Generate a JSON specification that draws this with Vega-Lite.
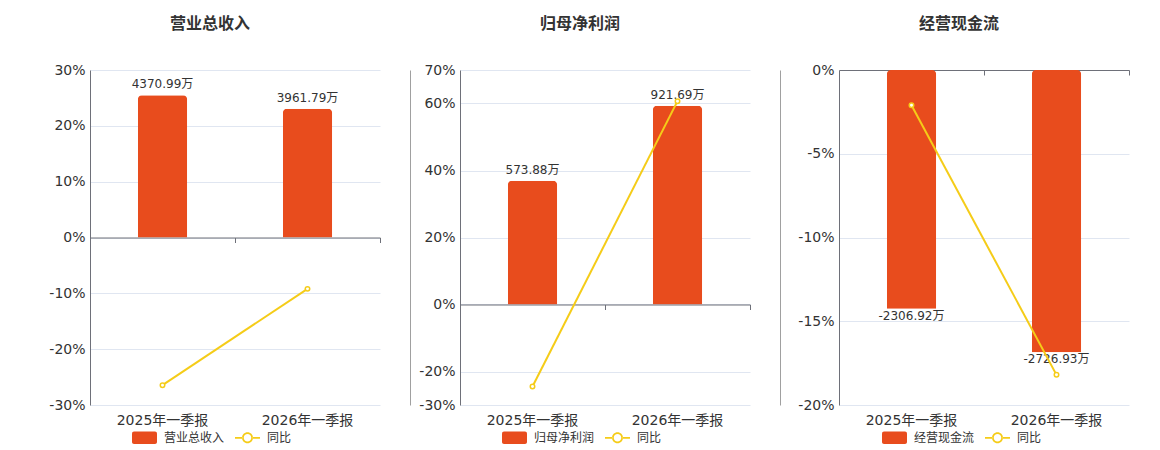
{
  "$schema": "https://vega.github.io/schema/vega-lite/v6.json",
  "padding": {"left": 45, "top": 16, "right": 5, "bottom": 0},
  "datasets": {
    "rev": [
      {"period": "2025年一季报", "value": 4370.99, "label": "4370.99万", "yoy": -26.45},
      {"period": "2026年一季报", "value": 3961.79, "label": "3961.79万", "yoy": -9.2}
    ],
    "np": [
      {"period": "2025年一季报", "value": 573.88, "label": "573.88万", "yoy": -24.5},
      {"period": "2026年一季报", "value": 921.69, "label": "921.69万", "yoy": 60.7}
    ],
    "cf": [
      {"period": "2025年一季报", "value": -2306.92, "label": "-2306.92万", "yoy": -2.1},
      {"period": "2026年一季报", "value": -2726.93, "label": "-2726.93万", "yoy": -18.2}
    ]
  },
  "spacing": 0,
  "hconcat": [
    {
      "width": 290, "height": 335,
      "title": {"text": "营业总收入"},
      "data": {"name": "rev"},
      "layer": [
        {
          "encoding": {
            "x": {
              "field": "period", "type": "nominal", "sort": null,
              "scale": {"paddingInner": 0.66, "paddingOuter": 0.33},
              "axis": {"orient": "bottom", "labelAngle": 0, "domain": false, "ticks": false, "grid": false, "title": null, "labelPadding": 8}
            },
            "y": {
              "field": "value", "type": "quantitative",
              "scale": {"domain": [-5150, 5150], "nice": false, "zero": false},
              "axis": {"orient": "right", "offset": 30, "labels": false, "ticks": false, "grid": false, "domain": true, "title": null, "domainColor": "#A0A0A0"}
            }
          },
          "layer": [
            {
              "mark": {"type": "bar", "cornerRadiusEnd": 4},
              "encoding": {
                "color": {
                  "datum": "营业总收入", "type": "nominal",
                  "scale": {"domain": ["营业总收入", "同比"], "range": ["#E84C1D", "#F5CC18"]},
                  "legend": {
                    "title": null, "orient": "none", "legendX": 42, "legendY": 355, "direction": "horizontal",
                    "symbolSize": 625, "symbolStrokeWidth": 0, "labelFontSize": 12, "labelColor": "#333333", "labelOffset": 7, "columnPadding": 10,
                    "encode": {"symbols": {"update": {
                      "shape": {"signal": "datum.value === '同比' ? 'M-1,-0.07L-0.42,-0.07L-0.42,0.07L-1,0.07ZM0.42,-0.07L1,-0.07L1,0.07L0.42,0.07ZM0.44,0A0.44,0.44,0,1,0,-0.44,0A0.44,0.44,0,1,0,0.44,0ZM0.3,0A0.3,0.3,0,1,1,-0.3,0A0.3,0.3,0,1,1,0.3,0Z' : 'M-0.84,-0.5L0.84,-0.5A0.16,0.16,0,0,1,1,-0.34L1,0.34A0.16,0.16,0,0,1,0.84,0.5L-0.84,0.5A0.16,0.16,0,0,1,-1,0.34L-1,-0.34A0.16,0.16,0,0,1,-0.84,-0.5Z'"},
                      "fill": {"signal": "datum.value === '同比' ? '#F5CC18' : '#E84C1D'"},
                      "strokeWidth": {"value": 0},
                      "opacity": {"value": 1}
                    }}}
                  }
                }
              }
            },
            {
              "mark": {"type": "text", "baseline": "bottom", "dy": -4, "fontSize": 12, "color": "#333333"},
              "encoding": {"text": {"field": "label"}}
            }
          ]
        },
        {
          "mark": {"type": "line", "strokeWidth": 2, "point": {"filled": false, "fill": "#ffffff", "size": 20, "strokeWidth": 1.5}},
          "encoding": {
            "x": {
              "field": "period", "type": "nominal", "sort": null,
              "axis": {"orient": "bottom", "offset": -167.5, "labels": false, "domain": true, "domainColor": "#6E7079", "ticks": true, "tickColor": "#6E7079", "tickSize": 5, "tickOffset": 72.5, "title": null, "grid": false}
            },
            "y": {
              "field": "yoy", "type": "quantitative",
              "scale": {"domain": [-30, 30], "nice": false, "zero": false},
              "axis": {"orient": "left", "values": [-30, -20, -10, 0, 10, 20, 30], "labelExpr": "datum.value + '%'", "ticks": false, "title": null, "domain": true, "domainColor": "#6E7079", "grid": true, "gridColor": "#E0E6F1", "minExtent": 45}
            },
            "color": {"datum": "同比", "type": "nominal"}
          }
        }
      ],
      "resolve": {"scale": {"y": "independent"}, "axis": {"x": "independent", "y": "independent"}}
    },
    {
      "width": 290, "height": 335,
      "title": {"text": "归母净利润"},
      "data": {"name": "np"},
      "layer": [
        {
          "encoding": {
            "x": {
              "field": "period", "type": "nominal", "sort": null,
              "scale": {"paddingInner": 0.66, "paddingOuter": 0.33},
              "axis": {"orient": "bottom", "labelAngle": 0, "domain": false, "ticks": false, "grid": false, "title": null, "labelPadding": 8}
            },
            "y": {
              "field": "value", "type": "quantitative",
              "scale": {"domain": [-466, 1087], "nice": false, "zero": false},
              "axis": {"orient": "right", "offset": 30, "labels": false, "ticks": false, "grid": false, "domain": true, "title": null, "domainColor": "#A0A0A0"}
            }
          },
          "layer": [
            {
              "mark": {"type": "bar", "cornerRadiusEnd": 4},
              "encoding": {
                "color": {
                  "datum": "归母净利润", "type": "nominal",
                  "scale": {"domain": ["归母净利润", "同比"], "range": ["#E84C1D", "#F5CC18"]},
                  "legend": {
                    "title": null, "orient": "none", "legendX": 42, "legendY": 355, "direction": "horizontal",
                    "symbolSize": 625, "symbolStrokeWidth": 0, "labelFontSize": 12, "labelColor": "#333333", "labelOffset": 7, "columnPadding": 10,
                    "encode": {"symbols": {"update": {
                      "shape": {"signal": "datum.value === '同比' ? 'M-1,-0.07L-0.42,-0.07L-0.42,0.07L-1,0.07ZM0.42,-0.07L1,-0.07L1,0.07L0.42,0.07ZM0.44,0A0.44,0.44,0,1,0,-0.44,0A0.44,0.44,0,1,0,0.44,0ZM0.3,0A0.3,0.3,0,1,1,-0.3,0A0.3,0.3,0,1,1,0.3,0Z' : 'M-0.84,-0.5L0.84,-0.5A0.16,0.16,0,0,1,1,-0.34L1,0.34A0.16,0.16,0,0,1,0.84,0.5L-0.84,0.5A0.16,0.16,0,0,1,-1,0.34L-1,-0.34A0.16,0.16,0,0,1,-0.84,-0.5Z'"},
                      "fill": {"signal": "datum.value === '同比' ? '#F5CC18' : '#E84C1D'"},
                      "strokeWidth": {"value": 0},
                      "opacity": {"value": 1}
                    }}}
                  }
                }
              }
            },
            {
              "mark": {"type": "text", "baseline": "bottom", "dy": -4, "fontSize": 12, "color": "#333333"},
              "encoding": {"text": {"field": "label"}}
            }
          ]
        },
        {
          "mark": {"type": "line", "strokeWidth": 2, "point": {"filled": false, "fill": "#ffffff", "size": 20, "strokeWidth": 1.5}},
          "encoding": {
            "x": {
              "field": "period", "type": "nominal", "sort": null,
              "axis": {"orient": "bottom", "offset": -100.5, "labels": false, "domain": true, "domainColor": "#6E7079", "ticks": true, "tickColor": "#6E7079", "tickSize": 5, "tickOffset": 72.5, "title": null, "grid": false}
            },
            "y": {
              "field": "yoy", "type": "quantitative",
              "scale": {"domain": [-30, 70], "nice": false, "zero": false},
              "axis": {"orient": "left", "values": [-30, -20, 0, 20, 40, 60, 70], "labelExpr": "datum.value + '%'", "ticks": false, "title": null, "domain": true, "domainColor": "#6E7079", "grid": true, "gridColor": "#E0E6F1", "minExtent": 50}
            },
            "color": {"datum": "同比", "type": "nominal"}
          }
        }
      ],
      "resolve": {"scale": {"y": "independent"}, "axis": {"x": "independent", "y": "independent"}}
    },
    {
      "width": 290, "height": 335,
      "title": {"text": "经营现金流"},
      "data": {"name": "cf"},
      "layer": [
        {
          "encoding": {
            "x": {
              "field": "period", "type": "nominal", "sort": null,
              "scale": {"paddingInner": 0.66, "paddingOuter": 0.33},
              "axis": {"orient": "bottom", "labelAngle": 0, "domain": false, "ticks": false, "grid": false, "title": null, "labelPadding": 8}
            },
            "y": {
              "field": "value", "type": "quantitative",
              "scale": {"domain": [-3238, 0], "nice": false, "zero": false},
              "axis": null
            }
          },
          "layer": [
            {
              "mark": {"type": "bar", "cornerRadiusEnd": 4},
              "encoding": {
                "color": {
                  "datum": "经营现金流", "type": "nominal",
                  "scale": {"domain": ["经营现金流", "同比"], "range": ["#E84C1D", "#F5CC18"]},
                  "legend": {
                    "title": null, "orient": "none", "legendX": 43, "legendY": 355, "direction": "horizontal",
                    "symbolSize": 625, "symbolStrokeWidth": 0, "labelFontSize": 12, "labelColor": "#333333", "labelOffset": 7, "columnPadding": 10,
                    "encode": {"symbols": {"update": {
                      "shape": {"signal": "datum.value === '同比' ? 'M-1,-0.07L-0.42,-0.07L-0.42,0.07L-1,0.07ZM0.42,-0.07L1,-0.07L1,0.07L0.42,0.07ZM0.44,0A0.44,0.44,0,1,0,-0.44,0A0.44,0.44,0,1,0,0.44,0ZM0.3,0A0.3,0.3,0,1,1,-0.3,0A0.3,0.3,0,1,1,0.3,0Z' : 'M-0.84,-0.5L0.84,-0.5A0.16,0.16,0,0,1,1,-0.34L1,0.34A0.16,0.16,0,0,1,0.84,0.5L-0.84,0.5A0.16,0.16,0,0,1,-1,0.34L-1,-0.34A0.16,0.16,0,0,1,-0.84,-0.5Z'"},
                      "fill": {"signal": "datum.value === '同比' ? '#F5CC18' : '#E84C1D'"},
                      "strokeWidth": {"value": 0},
                      "opacity": {"value": 1}
                    }}}
                  }
                }
              }
            },
            {
              "mark": {"type": "text", "baseline": "top", "dy": 2, "fontSize": 12, "color": "#333333"},
              "encoding": {"text": {"field": "label"}}
            }
          ]
        },
        {
          "mark": {"type": "line", "strokeWidth": 2, "point": {"filled": false, "fill": "#ffffff", "size": 20, "strokeWidth": 1.5}},
          "encoding": {
            "x": {
              "field": "period", "type": "nominal", "sort": null,
              "axis": {"orient": "bottom", "offset": -335, "labels": false, "domain": true, "domainColor": "#6E7079", "ticks": true, "tickColor": "#6E7079", "tickSize": 5, "tickOffset": 72.5, "title": null, "grid": false}
            },
            "y": {
              "field": "yoy", "type": "quantitative",
              "scale": {"domain": [-20, 0], "nice": false, "zero": false},
              "axis": {"orient": "left", "values": [-20, -15, -10, -5, 0], "labelExpr": "datum.value + '%'", "ticks": false, "title": null, "domain": true, "domainColor": "#6E7079", "grid": true, "gridColor": "#E0E6F1", "minExtent": 59}
            },
            "color": {"datum": "同比", "type": "nominal"}
          }
        }
      ],
      "resolve": {"scale": {"y": "independent"}, "axis": {"x": "independent", "y": "independent"}}
    }
  ],
  "resolve": {"scale": {"color": "independent"}, "legend": {"color": "independent"}},
  "config": {
    "view": {"stroke": null},
    "font": "DejaVu Sans, Noto Sans CJK SC",
    "title": {"fontSize": 16, "fontWeight": "bold", "color": "#333333", "frame": "group", "anchor": "middle", "dx": -25, "offset": 31},
    "axis": {"labelFontSize": 14, "labelColor": "#333333", "labelFont": "DejaVu Sans, Noto Sans CJK SC", "labelPadding": 5},
    "text": {"font": "DejaVu Sans, Noto Sans CJK SC"},
    "legend": {"labelFont": "DejaVu Sans, Noto Sans CJK SC"}
  }
}
